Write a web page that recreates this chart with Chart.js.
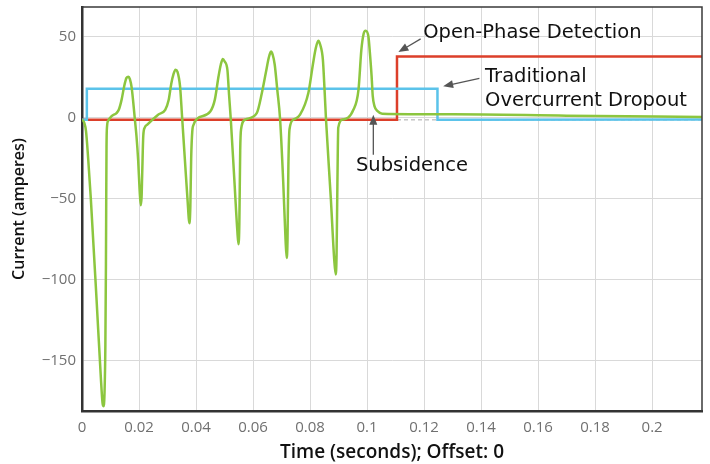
<!DOCTYPE html>
<html>
<head>
<meta charset="utf-8">
<script src="https://cdn.jsdelivr.net/npm/chart.js@4"></script>
<style>
  html, body { margin: 0; padding: 0; background: #fff; }
</style>
</head>
<body>
<canvas id="chart" width="710" height="464"></canvas>
<script>
// measured current (green)
const timeGreen = [
  0, 0.0008, 0.0014, 0.0022, 0.0031, 0.0051, 0.0066, 0.0072, 0.0075, 0.0079, 0.0082, 0.0084, 0.0085, 0.0086, 0.0088,
  0.0092, 0.0103, 0.0121, 0.0129, 0.0139, 0.0148, 0.0156, 0.0163, 0.0168, 0.0174, 0.018, 0.0185, 0.0191, 0.0197, 0.0202,
  0.0206, 0.0209, 0.0211, 0.0215, 0.022, 0.023, 0.0267, 0.0292, 0.0304, 0.0313, 0.0321, 0.0328, 0.0335, 0.0344, 0.0351,
  0.0361, 0.037, 0.0377, 0.038, 0.0383, 0.0387, 0.0392, 0.0403, 0.045, 0.0466, 0.0479, 0.0487, 0.0494, 0.05, 0.051,
  0.0516, 0.0522, 0.0535, 0.0545, 0.0549, 0.0552, 0.0555, 0.0558, 0.0573, 0.0613, 0.0631, 0.0645, 0.0655, 0.0663, 0.0669,
  0.0676, 0.0685, 0.0695, 0.0706, 0.0714, 0.0718, 0.0721, 0.0724, 0.0728, 0.0742, 0.0765, 0.0794, 0.081, 0.082, 0.0829,
  0.0836, 0.0845, 0.0851, 0.0856, 0.0873, 0.0885, 0.089, 0.0893, 0.0896, 0.0899, 0.0915, 0.0952, 0.097, 0.098, 0.0988,
  0.0995, 0.1005, 0.101, 0.1016, 0.102, 0.1026, 0.1037, 0.1053, 0.13, 0.17, 0.2175
];
const currentGreen = [
  -1, -3, -8, -26, -50, -112, -160, -176, -178, -170, -140, -90, -50, -18, -5,
  -1.7, 1, 3, 5, 11.3, 19.6, 24.7, 25.5, 24, 19, 9.3, 0, -11, -26, -44,
  -54, -49, -36, -11, -6, -4, 2, 5, 11, 21, 27, 29.8, 28.5, 19.5, 1,
  -26, -50, -65, -55, -25, -8, -4, -0.6, 4, 11.3, 25.7, 33, 36.4, 35, 29.8,
  14, -1, -40, -70, -78, -65, -20, -7, -1, 3, 15.4, 28, 37, 41, 39,
  33, 17.5, -1, -40, -75, -86.5, -75, -30, -7, -1, 2, 15.4, 33, 43, 47.7,
  45, 36, 17, -1, -50, -88, -96.7, -85, -40, -6, -1, 5, 17.5, 42, 52,
  53.9, 50, 40, 25.7, 13.4, 7.3, 4.2, 2.6, 2.2, 1.4, 0.6
];

// open-phase detection (red)
const timeRed = [0, 0.1105, 0.1105, 0.2175];
const currentRed = [-1.2, -1.2, 38, 38];

// traditional overcurrent (blue)
const timeBlue = [0, 0.0017, 0.0017, 0.1247, 0.1247, 0.2175];
const currentBlue = [-1.2, -1.2, 18, 18, -1.2, -0.9];

// dashed zero reference
const timeZero = [0, 0.2175];
const currentZero = [-1.2, -1.2];

const xTicks = [0, 0.02, 0.04, 0.06, 0.08, 0.1, 0.12, 0.14, 0.16, 0.18, 0.2];
const yTicks = [-150, -100, -50, 0, 50];

const notes = [
  { text: 'Open-Phase Detection', t: 0.1197, v: 52.7 },
  { text: 'Traditional', t: 0.1414, v: 25.1 },
  { text: 'Overcurrent Dropout', t: 0.1414, v: 10.7 },
  { text: 'Subsidence', t: 0.0961, v: -29.9 }
];
const arrows = [
  { from: [0.1188, 48.8], to: [0.111, 40.7] },
  { from: [0.1394, 24.4], to: [0.1267, 19.5] },
  { from: [0.1022, -22.7], to: [0.1022, 2] }
];

const FONT = "'Open Sans', 'DejaVu Sans', sans-serif";
const NOTE_FONT = "'DejaVu Sans', sans-serif";

function toPoints(xs, ys) {
  return xs.map((x, i) => ({ x: x, y: ys[i] }));
}

// annotations + top/right frame
const annotate = {
  id: 'annotate',
  afterDatasetsDraw(chart) {
    const { ctx, chartArea, scales: { x, y } } = chart;
    ctx.save();
    ctx.strokeStyle = '#3a3a3a';
    ctx.lineWidth = 1.5;
    ctx.beginPath();
    ctx.moveTo(chartArea.left, chartArea.top);
    ctx.lineTo(chartArea.right, chartArea.top);
    ctx.lineTo(chartArea.right, chartArea.bottom);
    ctx.stroke();

    ctx.strokeStyle = '#555';
    ctx.fillStyle = '#555';
    ctx.lineWidth = 1.3;
    arrows.forEach(a => {
      const x1 = x.getPixelForValue(a.from[0]), y1 = y.getPixelForValue(a.from[1]);
      const x2 = x.getPixelForValue(a.to[0]), y2 = y.getPixelForValue(a.to[1]);
      const ang = Math.atan2(y2 - y1, x2 - x1);
      const len = 10, w = 4;
      ctx.beginPath();
      ctx.moveTo(x1, y1);
      ctx.lineTo(x2 - Math.cos(ang) * len * 0.8, y2 - Math.sin(ang) * len * 0.8);
      ctx.stroke();
      ctx.beginPath();
      ctx.moveTo(x2, y2);
      ctx.lineTo(x2 - Math.cos(ang) * len - Math.sin(ang) * w, y2 - Math.sin(ang) * len + Math.cos(ang) * w);
      ctx.lineTo(x2 - Math.cos(ang) * len + Math.sin(ang) * w, y2 - Math.sin(ang) * len - Math.cos(ang) * w);
      ctx.closePath();
      ctx.fill();
    });

    ctx.fillStyle = '#111';
    ctx.font = '19.5px ' + NOTE_FONT;
    ctx.textBaseline = 'middle';
    ctx.textAlign = 'left';
    notes.forEach(n => {
      ctx.fillText(n.text, x.getPixelForValue(n.t), y.getPixelForValue(n.v));
    });
    ctx.restore();
  }
};

new Chart(document.getElementById('chart'), {
  type: 'line',
  data: {
    datasets: [
      {
        label: 'Current',
        data: toPoints(timeGreen, currentGreen),
        borderColor: '#8cc63f',
        borderWidth: 2.5,
        cubicInterpolationMode: 'monotone',
        order: 1
      },
      {
        label: 'Traditional Overcurrent',
        data: toPoints(timeBlue, currentBlue),
        borderColor: '#5bc3ea',
        borderWidth: 2.5,
        order: 2
      },
      {
        label: 'Open-Phase Detection',
        data: toPoints(timeRed, currentRed),
        borderColor: '#dc3f2a',
        borderWidth: 2.5,
        order: 3
      },
      {
        label: 'Zero',
        data: toPoints(timeZero, currentZero),
        borderColor: '#aaaaaa',
        borderWidth: 1,
        borderDash: [4, 3],
        order: 4
      }
    ]
  },
  options: {
    responsive: false,
    animation: false,
    layout: { padding: { top: 0, right: 8, left: 0, bottom: 0 } },
    elements: { point: { radius: 0 }, line: { tension: 0, borderCapStyle: 'butt' } },
    plugins: { legend: { display: false }, tooltip: { enabled: false } },
    scales: {
      x: {
        type: 'linear',
        min: 0,
        max: 0.2175,
        afterBuildTicks: s => { s.ticks = xTicks.map(v => ({ value: v })); },
        afterFit: s => { s.height = 53; },
        ticks: {
          color: '#707070',
          font: { family: FONT, size: 15 },
          padding: 8,
          maxRotation: 0,
          callback: v => String(Number(v.toFixed(2)))
        },
        grid: { color: '#d9d9d9', lineWidth: 1, drawTicks: false },
        border: { color: '#333', width: 2.5 },
        title: {
          display: true,
          text: 'Time (seconds); Offset: 0',
          color: '#111',
          font: { family: FONT, size: 19, weight: '600' },
          padding: { top: 2, bottom: 0 }
        }
      },
      y: {
        min: -181,
        max: 68.5,
        afterBuildTicks: s => { s.ticks = yTicks.map(v => ({ value: v })); },
        afterFit: s => { s.width = 82; s.paddingTop = 7; s.paddingBottom = 0; },
        ticks: {
          color: '#707070',
          font: { family: FONT, size: 15 },
          padding: 6,
          callback: v => String(v).replace('-', '\u2212')
        },
        grid: { color: '#d9d9d9', lineWidth: 1, drawTicks: false },
        border: { color: '#333', width: 2.5 },
        title: {
          display: true,
          text: 'Current (amperes)',
          color: '#111',
          font: { family: FONT, size: 16, weight: '600' },
          padding: { top: 10, bottom: 0 }
        }
      }
    }
  },
  plugins: [annotate]
});
</script>
</body>
</html>
